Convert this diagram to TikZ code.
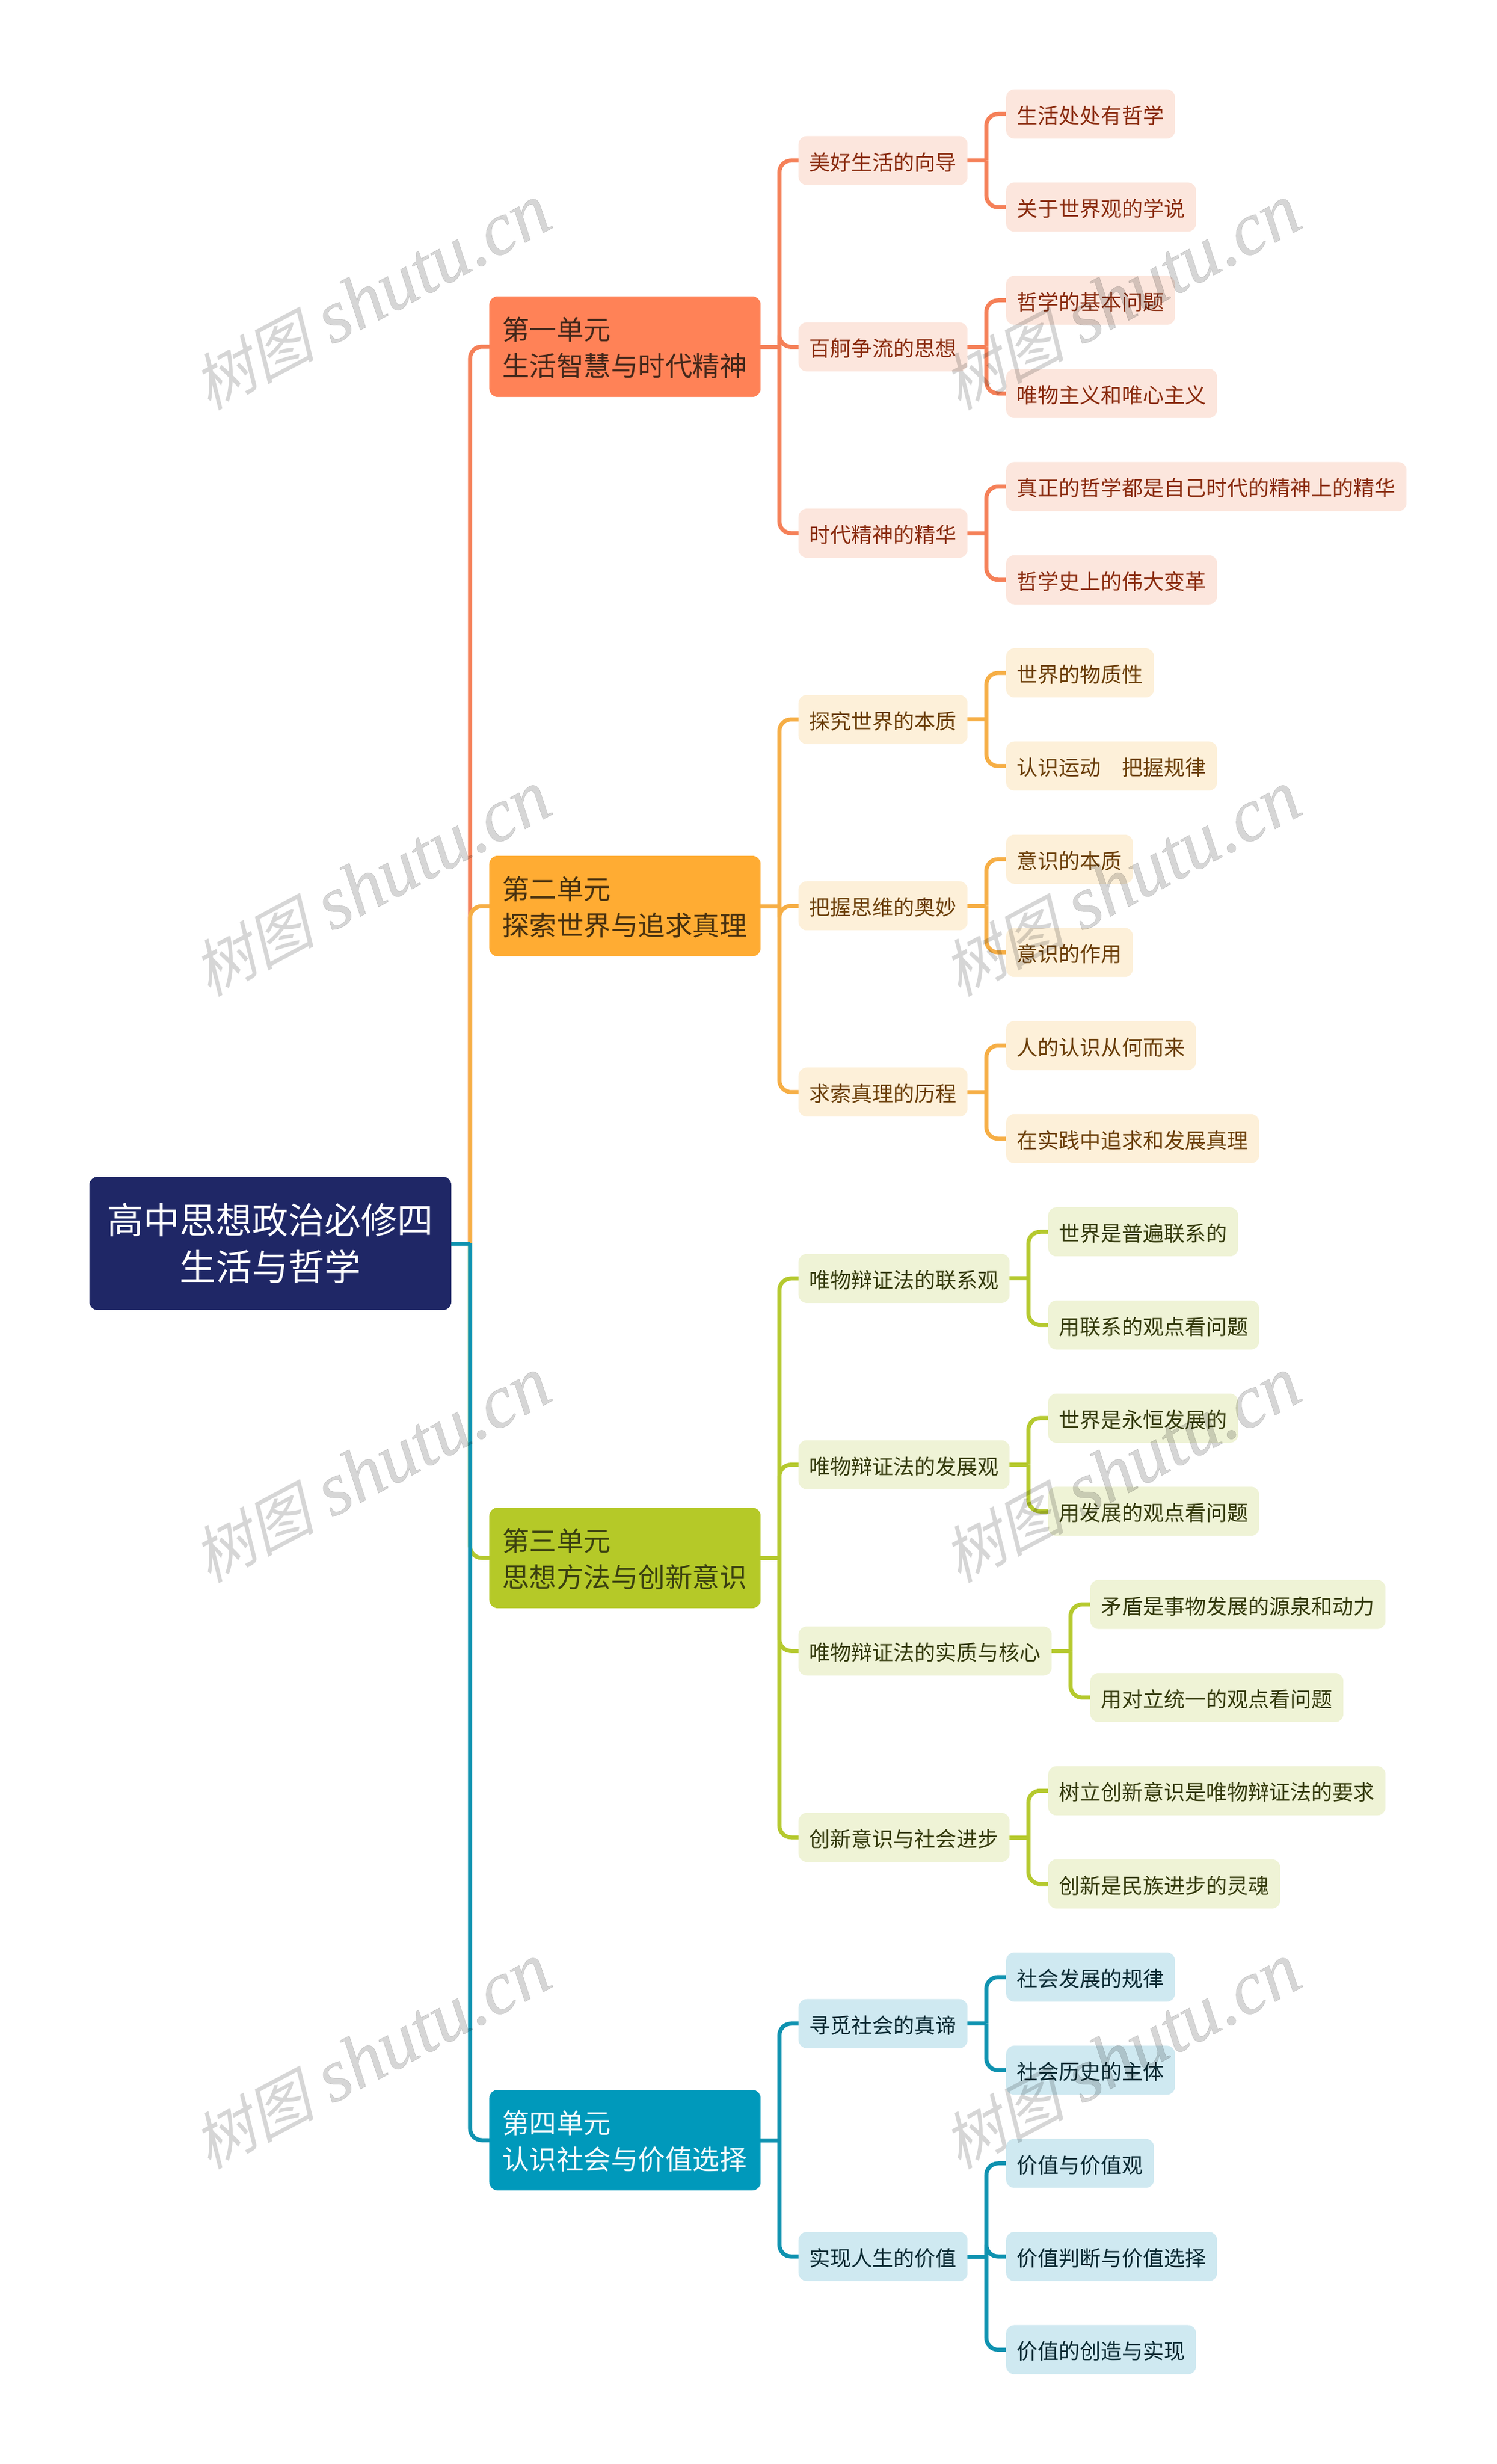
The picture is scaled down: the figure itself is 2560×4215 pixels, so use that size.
\documentclass[tikz,border=0pt]{standalone}
\usepackage{fontspec}
\usepackage{xfp}
\setmainfont{Noto Sans CJK SC}
\newfontfamily\wmcjk[FakeSlant=0.25]{Noto Sans CJK SC}
\newfontfamily\wmlat[UprightFont=* Italic,FakeBold=0.4]{Liberation Serif}
\usetikzlibrary{calc}
\definecolor{rootc}{HTML}{1F2766}
\definecolor{aBox}{HTML}{FF8257}\definecolor{aLine}{HTML}{F58058}\definecolor{aPale}{HTML}{FCE6DD}\definecolor{aText}{HTML}{8A2B0E}\definecolor{aDark}{HTML}{43271A}
\definecolor{bBox}{HTML}{FFAC33}\definecolor{bLine}{HTML}{F6AE45}\definecolor{bPale}{HTML}{FDF0D9}\definecolor{bText}{HTML}{6B3E08}\definecolor{bDark}{HTML}{47300F}
\definecolor{cBox}{HTML}{B5C928}\definecolor{cLine}{HTML}{B5C92E}\definecolor{cPale}{HTML}{EFF3D6}\definecolor{cText}{HTML}{343A0C}\definecolor{cDark}{HTML}{3A4010}
\definecolor{dBox}{HTML}{0099BB}\definecolor{dLine}{HTML}{0E92B0}\definecolor{dPale}{HTML}{CFE9F1}\definecolor{dText}{HTML}{0A2A33}\definecolor{dDark}{HTML}{F4FBFD}
\newcommand{\ly}[1]{\fpeval{195+159.35*(#1)}}
\newcommand{\ufirst}{\rule{0pt}{43.5pt}}
\tikzset{
  rootbox/.style={fill=rootc,text=white,rounded corners=14pt,minimum width=619pt,minimum height=228pt,inner sep=0pt,align=center,font=\fontsize{62}{80}\selectfont},
  unitbox/.style={fill=#1Box,text=#1Dark,rounded corners=14pt,text width=420pt,minimum height=172pt,inner ysep=0pt,inner xsep=22pt,align=left,font=\fontsize{46.5}{62}\selectfont,anchor=west},
  subbox/.style={fill=#1Pale,text=#1Text,rounded corners=14pt,minimum height=84pt,inner xsep=18.5pt,inner ysep=0pt,text height=33pt,text depth=0pt,font=\fontsize{36}{36}\selectfont,anchor=west},
  wire/.style={draw=#1Line,line width=7pt},
  wm/.style={rotate=28,text=black,text opacity=0.16,font=\fontsize{129}{129}\selectfont,inner sep=0pt}
}
\newcommand{\conn}[4]{% colour, from, to, offset
  \draw[wire=#1] (#2.east) -- ++(#4,0);
  \draw[wire=#1,rounded corners=20pt] ($(#2.east)+(#4,0)$) |- (#3.west);}
\begin{document}
\begin{tikzpicture}[x=1pt,y=-1pt]
\useasboundingbox (0,0) rectangle (2560,4215);
\node[rootbox] (root) at (462.5,2127) {高中思想政治必修四\\生活与哲学};
% units
\node[unitbox=a] (u1) at (837,593) {\ufirst 第一单元\\生活智慧与时代精神};
\node[unitbox=b] (u2) at (837,1550) {\ufirst 第二单元\\探索世界与追求真理};
\node[unitbox=c] (u3) at (837,2665) {\ufirst 第三单元\\思想方法与创新意识};
\node[unitbox=d] (u4) at (837,3661) {\ufirst 第四单元\\认识社会与价值选择};
% level 2
\node[subbox=a] (s1) at (1366,{\ly{0.5}}) {美好生活的向导};
\node[subbox=a] (s2) at (1366,{\ly{2.5}}) {百舸争流的思想};
\node[subbox=a] (s3) at (1366,{\ly{4.5}}) {时代精神的精华};
\node[subbox=b] (s4) at (1366,{\ly{6.5}}) {探究世界的本质};
\node[subbox=b] (s5) at (1366,{\ly{8.5}}) {把握思维的奥妙};
\node[subbox=b] (s6) at (1366,{\ly{10.5}}) {求索真理的历程};
\node[subbox=c] (s7) at (1366,{\ly{12.5}}) {唯物辩证法的联系观};
\node[subbox=c] (s8) at (1366,{\ly{14.5}}) {唯物辩证法的发展观};
\node[subbox=c] (s9) at (1366,{\ly{16.5}}) {唯物辩证法的实质与核心};
\node[subbox=c] (s10) at (1366,{\ly{18.5}}) {创新意识与社会进步};
\node[subbox=d] (s11) at (1366,{\ly{20.5}}) {寻觅社会的真谛};
\node[subbox=d] (s12) at (1366,{\ly{23}}) {实现人生的价值};
% level 3
\node[subbox=a] (t0) at (1721,{\ly{0}}) {生活处处有哲学};
\node[subbox=a] (t1) at (1721,{\ly{1}}) {关于世界观的学说};
\node[subbox=a] (t2) at (1721,{\ly{2}}) {哲学的基本问题};
\node[subbox=a] (t3) at (1721,{\ly{3}}) {唯物主义和唯心主义};
\node[subbox=a] (t4) at (1721,{\ly{4}}) {真正的哲学都是自己时代的精神上的精华};
\node[subbox=a] (t5) at (1721,{\ly{5}}) {哲学史上的伟大变革};
\node[subbox=b] (t6) at (1721,{\ly{6}}) {世界的物质性};
\node[subbox=b] (t7) at (1721,{\ly{7}}) {认识运动　把握规律};
\node[subbox=b] (t8) at (1721,{\ly{8}}) {意识的本质};
\node[subbox=b] (t9) at (1721,{\ly{9}}) {意识的作用};
\node[subbox=b] (t10) at (1721,{\ly{10}}) {人的认识从何而来};
\node[subbox=b] (t11) at (1721,{\ly{11}}) {在实践中追求和发展真理};
\node[subbox=c] (t12) at (1793,{\ly{12}}) {世界是普遍联系的};
\node[subbox=c] (t13) at (1793,{\ly{13}}) {用联系的观点看问题};
\node[subbox=c] (t14) at (1793,{\ly{14}}) {世界是永恒发展的};
\node[subbox=c] (t15) at (1793,{\ly{15}}) {用发展的观点看问题};
\node[subbox=c] (t16) at (1865,{\ly{16}}) {矛盾是事物发展的源泉和动力};
\node[subbox=c] (t17) at (1865,{\ly{17}}) {用对立统一的观点看问题};
\node[subbox=c] (t18) at (1793,{\ly{18}}) {树立创新意识是唯物辩证法的要求};
\node[subbox=c] (t19) at (1793,{\ly{19}}) {创新是民族进步的灵魂};
\node[subbox=d] (t20) at (1721,{\ly{20}}) {社会发展的规律};
\node[subbox=d] (t21) at (1721,{\ly{21}}) {社会历史的主体};
\node[subbox=d] (t22) at (1721,{\ly{22}}) {价值与价值观};
\node[subbox=d] (t23) at (1721,{\ly{23}}) {价值判断与价值选择};
\node[subbox=d] (t24) at (1721,{\ly{24}}) {价值的创造与实现};
% connectors
\conn{a}{root}{u1}{32}\conn{b}{root}{u2}{32}\conn{c}{root}{u3}{32}\conn{d}{root}{u4}{32}
\conn{a}{u1}{s1}{32}\conn{a}{u1}{s2}{32}\conn{a}{u1}{s3}{32}
\conn{b}{u2}{s4}{32}\conn{b}{u2}{s5}{32}\conn{b}{u2}{s6}{32}
\conn{c}{u3}{s7}{32}\conn{c}{u3}{s8}{32}\conn{c}{u3}{s9}{32}\conn{c}{u3}{s10}{32}
\conn{d}{u4}{s11}{32}\conn{d}{u4}{s12}{32}
\conn{a}{s1}{t0}{32}\conn{a}{s1}{t1}{32}\conn{a}{s2}{t2}{32}\conn{a}{s2}{t3}{32}\conn{a}{s3}{t4}{32}\conn{a}{s3}{t5}{32}
\conn{b}{s4}{t6}{32}\conn{b}{s4}{t7}{32}\conn{b}{s5}{t8}{32}\conn{b}{s5}{t9}{32}\conn{b}{s6}{t10}{32}\conn{b}{s6}{t11}{32}
\conn{c}{s7}{t12}{32}\conn{c}{s7}{t13}{32}\conn{c}{s8}{t14}{32}\conn{c}{s8}{t15}{32}\conn{c}{s9}{t16}{32}\conn{c}{s9}{t17}{32}\conn{c}{s10}{t18}{32}\conn{c}{s10}{t19}{32}
\conn{d}{s11}{t20}{32}\conn{d}{s11}{t21}{32}\conn{d}{s12}{t22}{32}\conn{d}{s12}{t23}{32}\conn{d}{s12}{t24}{32}
% watermarks
\foreach \wx/\wy/\wn in {635/509/w1,1918/509/w2,635/1512/w3,1918/1512/w4,635/2515/w5,1918/2515/w6,635/3518/w7,1918/3518/w8}{
  \node[wm] (\wn) at (\wx,\wy) {{\wmcjk\fontsize{105}{105}\selectfont 树图} {\wmlat shutu.cn}};
}
\end{tikzpicture}
\end{document}
